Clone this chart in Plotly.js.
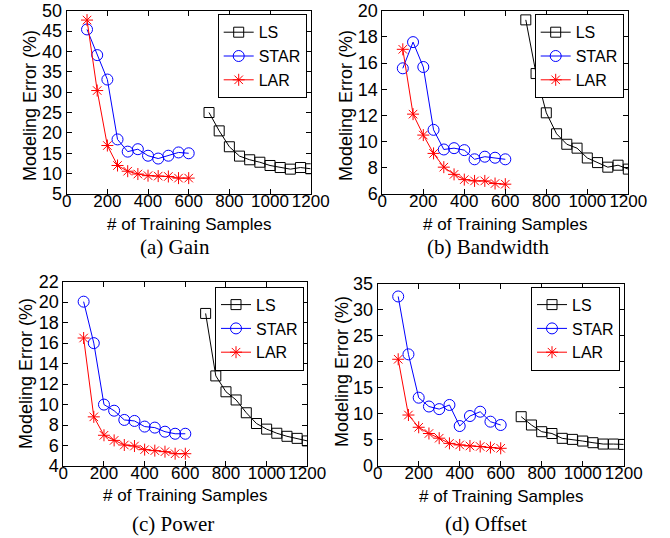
<!DOCTYPE html>
<html>
<head>
<meta charset="utf-8">
<script src="https://cdn.plot.ly/plotly-3.0.1.min.js"></script>
<style>html,body{margin:0;padding:0;background:#fff;}#chart{width:670px;height:538px;}</style>
</head>
<body>
<div id="chart"></div>
<script>
var xSmall = [100,150,200,250,300,350,400,450,500,550,600];
var xLS = [700,750,800,850,900,950,1000,1050,1100,1150,1200];
var xTicks = [0,200,400,600,800,1000,1200];

var gainLS = [25.0,20.5,16.6,14.3,13.4,12.8,12.0,11.5,11.1,11.5,11.2];
var gainSTAR = [45.4,39.1,33.1,18.4,15.4,16.0,14.4,13.7,14.4,15.2,15.0];
var gainLAR = [47.7,30.4,16.9,12.0,10.6,9.9,9.5,9.4,9.3,8.9,8.9];

var bwLS = [19.3,15.2,12.2,10.6,9.8,9.5,8.75,8.4,8.05,8.2,7.9];
var bwSTAR = [15.6,17.6,15.7,10.9,9.4,9.5,9.35,8.65,8.85,8.77,8.65];
var bwLAR = [17.05,12.1,10.5,9.1,8.05,7.5,7.1,7.0,7.0,6.8,6.75];

var pwLS = [18.9,12.8,11.25,10.45,9.2,8.15,7.6,7.2,6.9,6.7,6.45];
var pwSTAR = [20.05,16.0,10.0,9.4,8.5,8.4,7.85,7.75,7.35,7.15,7.15];
var pwLAR = [16.5,8.8,7.0,6.5,6.05,5.95,5.6,5.5,5.4,5.2,5.2];

var ofLS = [9.44,7.84,6.55,6.2,5.27,5.07,4.75,4.43,4.17,4.17,4.1];
var ofSTAR = [32.6,21.45,13.1,11.4,10.9,11.7,7.64,9.57,10.4,8.48,7.84];
var ofLAR = [20.5,9.76,7.4,6.2,5.3,4.3,4.0,3.8,3.7,3.5,3.35];

var seriesNames = ['LS','STAR','LAR'];
var captions = ['(a) Gain','(b) Bandwidth','(c) Power','(d) Offset'];
var yTitle = 'Modeling Error (%)';
var xTitle = '# of Training Samples';

var panels = [
  {ls: gainLS, star: gainSTAR, lar: gainLAR, yr: [5,50], dy: 5},
  {ls: bwLS, star: bwSTAR, lar: bwLAR, yr: [6,20], dy: 2},
  {ls: pwLS, star: pwSTAR, lar: pwLAR, yr: [4,22], dy: 2},
  {ls: ofLS, star: ofSTAR, lar: ofLAR, yr: [0,35], dy: 5}
];

var W = 670, H = 538;
// plot-area boxes in px: [left, right, top, bottom]
var boxes = [
  [66.7, 310.7, 10.7, 194],
  [382.3, 628.3, 10.7, 194],
  [63.3, 307.3, 281.7, 466],
  [377.7, 623.7, 284, 465.7]
];
var legendPos = [[306.7, 14.3],[623.7, 14.3],[304, 286.7],[620, 286.7]];
var captionPos = [[175, 247],[488, 247],[173, 524],[486, 524]];
var xTitlePos = [[188.7, 224],[505.3, 224],[185.3, 495],[500.7, 496]];
var yTitlePos = [[30, 106],[346, 106],[26, 374],[342, 372]];

var FONT = 'Liberation Sans, Arial, Helvetica, sans-serif';
var SERIF = 'Liberation Serif, Times New Roman, serif';

var traces = [];
var layout = {
  width: W, height: H,
  margin: {l:0, r:0, t:0, b:0},
  paper_bgcolor: '#fff', plot_bgcolor: '#fff',
  font: {family: FONT, size: 18, color: '#000'},
  showlegend: true,
  annotations: []
};

panels.forEach(function(p, i){
  var n = i + 1;
  var sfx = (n === 1 ? '' : String(n));
  var xa = 'x' + sfx, ya = 'y' + sfx;
  var lg = 'legend' + sfx;
  traces.push({x: xLS, y: p.ls, xaxis: xa, yaxis: ya, legend: lg, name: seriesNames[0],
    type: 'scatter', mode: 'lines+markers',
    line: {color: '#000', width: 1},
    marker: {symbol: 'square-open', size: 10, color: '#000', line: {width: 1, color: '#000'}}});
  traces.push({x: xSmall, y: p.star, xaxis: xa, yaxis: ya, legend: lg, name: seriesNames[1],
    type: 'scatter', mode: 'lines+markers',
    line: {color: '#0000ff', width: 1},
    marker: {symbol: 'circle-open', size: 11, color: '#0000ff', line: {width: 1, color: '#0000ff'}}});
  traces.push({x: xSmall, y: p.lar, xaxis: xa, yaxis: ya, legend: lg, name: seriesNames[2],
    type: 'scatter', mode: 'lines+markers',
    line: {color: '#ff0000', width: 1},
    marker: {symbol: 'asterisk-open', size: 10, color: '#ff0000', line: {width: 1, color: '#ff0000'}}});

  var b = boxes[i];
  var axCommon = {
    showline: true, linecolor: '#000', linewidth: 1, mirror: 'ticks',
    ticks: 'inside', ticklen: 5, tickcolor: '#000', tickwidth: 1,
    showgrid: false, zeroline: false, automargin: false
  };
  layout['xaxis' + sfx] = Object.assign({}, axCommon, {
    domain: [b[0]/W, b[1]/W], anchor: ya, range: [0,1200],
    tickmode: 'array', tickvals: xTicks, ticktext: xTicks.map(String),
    tickangle: 0, ticklabelstandoff: -8,
    tickfont: {family: FONT, size: 17, color: '#000'}
  });
  layout['yaxis' + sfx] = Object.assign({}, axCommon, {
    domain: [1 - b[3]/H, 1 - b[2]/H], anchor: xa, range: p.yr, dtick: p.dy, tick0: 0,
    tickfont: {family: FONT, size: 18, color: '#000'}
  });
  layout[lg] = {
    x: legendPos[i][0]/W, y: 1 - legendPos[i][1]/H, xanchor: 'right', yanchor: 'top',
    bgcolor: '#fff', bordercolor: '#000', borderwidth: 1,
    font: {family: FONT, size: 16, color: '#000'}, tracegroupgap: 0, itemwidth: 30
  };
  layout.annotations.push({
    text: xTitle, xref: 'paper', yref: 'paper',
    x: xTitlePos[i][0]/W, y: 1 - xTitlePos[i][1]/H, xanchor: 'center', yanchor: 'middle',
    showarrow: false, font: {family: FONT, size: 17, color: '#000'}
  });
  layout.annotations.push({
    text: yTitle, xref: 'paper', yref: 'paper', textangle: -90,
    x: yTitlePos[i][0]/W, y: 1 - yTitlePos[i][1]/H, xanchor: 'center', yanchor: 'middle',
    showarrow: false, font: {family: FONT, size: 18, color: '#000'}
  });
  layout.annotations.push({
    text: captions[i], xref: 'paper', yref: 'paper',
    x: captionPos[i][0]/W, y: 1 - captionPos[i][1]/H, xanchor: 'center', yanchor: 'middle',
    showarrow: false, font: {family: SERIF, size: 21, color: '#000'}
  });
});

Plotly.newPlot('chart', traces, layout, {displayModeBar: false, staticPlot: true});
</script>
</body>
</html>
